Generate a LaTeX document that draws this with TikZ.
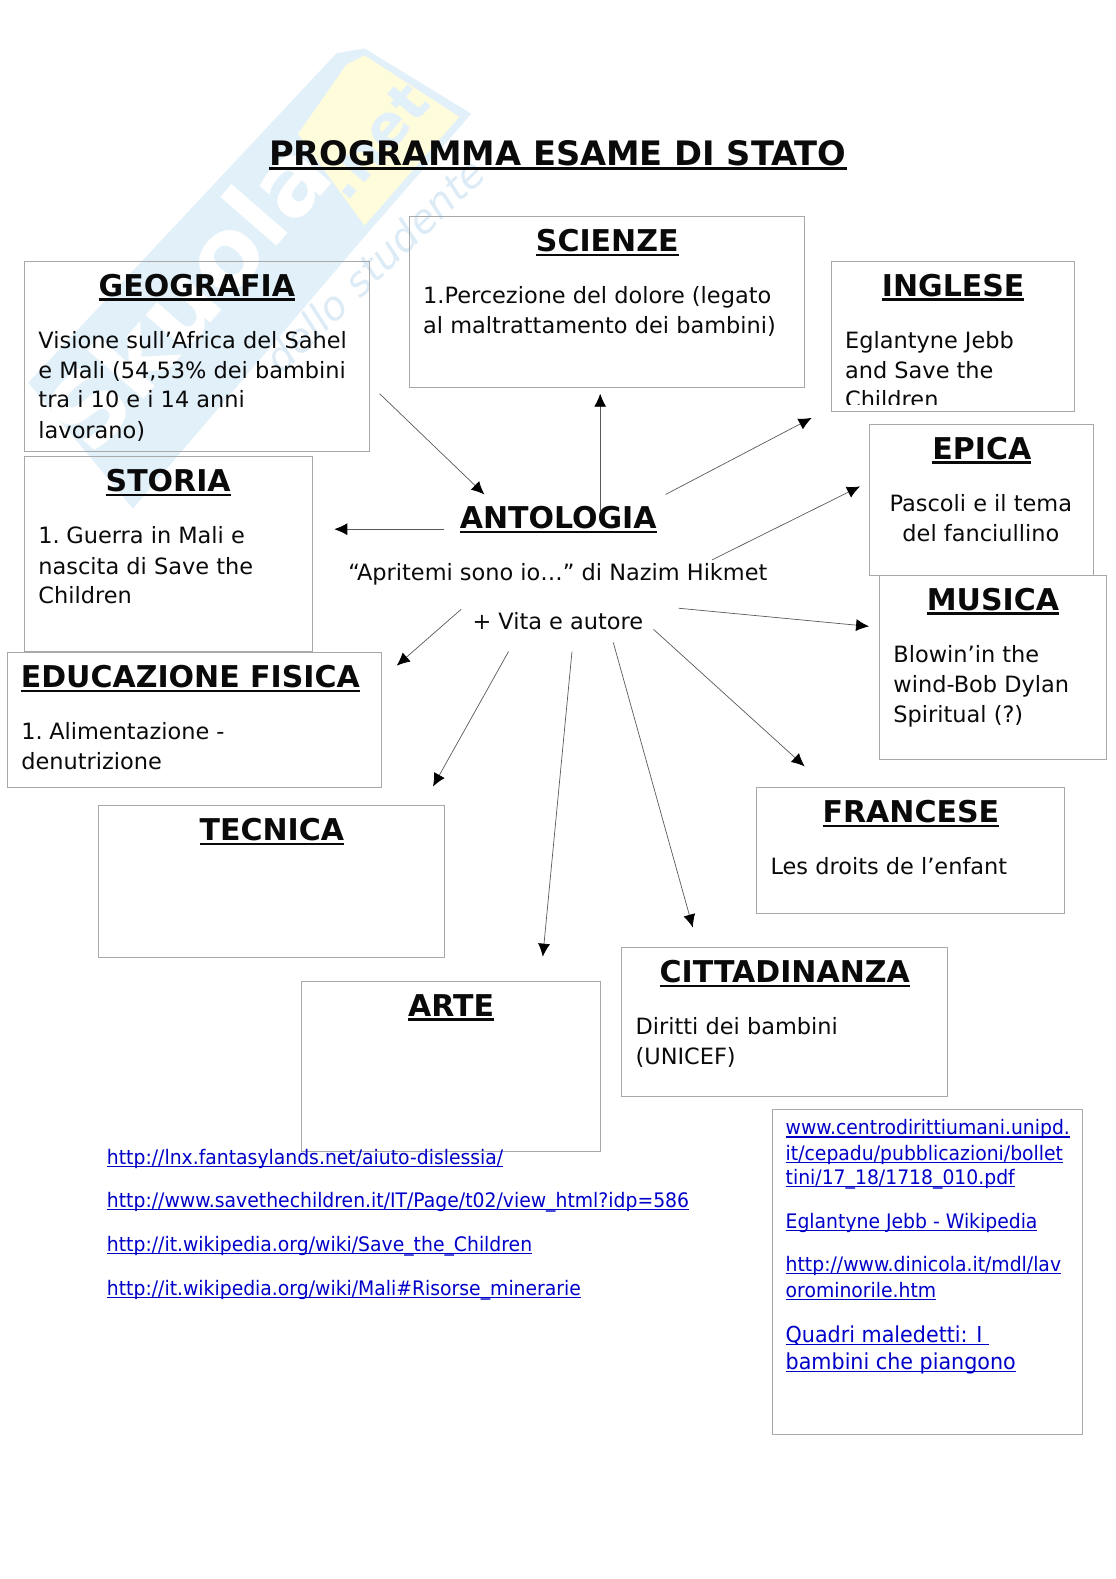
\documentclass[tikz,border=0pt]{standalone}
\usepackage{fontspec}
\usetikzlibrary{arrows.meta,fit}
\setmainfont{DejaVu Sans}
\newfontfamily\linkfont[FakeStretch=0.94]{DejaVu Sans}
\definecolor{wmblue}{HTML}{E2F0F9}
\definecolor{wmyellow}{HTML}{FFFCDC}
\definecolor{wmtext}{HTML}{DCEBF5}
\definecolor{linkblue}{HTML}{0000C8}
\definecolor{boxline}{HTML}{A8A8A8}
\definecolor{inkblack}{HTML}{0A0A0A}
\newcommand{\hul}[1]{\setbox0=\hbox{#1}\rlap{\copy0}\rlap{\rule[-4.5pt]{\wd0}{2.4pt}}\kern\wd0\relax}
\newcommand{\lnk}[1]{\setbox0=\hbox{#1}\rlap{\copy0}\rlap{\rule[-2.6pt]{\wd0}{1.1pt}}\kern\wd0\relax}
\tikzset{
  x=1.00722pt,y=-1.00722pt,
  panel/.style={draw=boxline,line width=0.8pt,inner sep=0pt,rectangle},
  head/.style={anchor=base,font=\fontsize{30}{36}\selectfont\bfseries,text=inkblack,inner sep=0pt},
  body/.style={anchor=base west,font=\fontsize{22.45}{30}\selectfont,text=inkblack,inner sep=0pt,align=left},
  bodyc/.style={anchor=base,font=\fontsize{22.45}{30}\selectfont,text=inkblack,inner sep=0pt,align=center},
  link/.style={anchor=base west,font=\linkfont\fontsize{20}{25}\selectfont,text=linkblue,inner sep=0pt},
  linkb/.style={anchor=base west,font=\linkfont\fontsize{22}{27}\selectfont,text=linkblue,inner sep=0pt},
  conn/.style={draw=black!65,line width=0.7pt,-{Latex[length=13pt,width=12pt,black]}},
}
\begin{document}
\begin{tikzpicture}
\useasboundingbox (0,0) rectangle (1108,1568);
% watermark
\fill[wmblue] (334,53) -- (362,48) -- (468,113) -- (362,235) -- (132,505) -- (28,380) -- cycle;
\fill[wmyellow] (362,55) -- (456,116) -- (362,224) -- (296,133) -- (344,64) -- cycle;
\node[rotate=49,font=\fontsize{98}{98}\selectfont\bfseries,text=white,inner sep=0pt,anchor=center] (wmname) at (186,292) {Skuola};
\node[rotate=49,font=\fontsize{58}{58}\selectfont\bfseries,text=wmblue,inner sep=0pt,anchor=center] (wmnet) at (372,140) {.net};
\node[rotate=44,font=\fontsize{40}{40}\selectfont\itshape,text=wmtext,inner sep=0pt,anchor=center] (wmtag) at (372,263) {dello studente};
% title
\node[anchor=base,font=\fontsize{33.7}{40}\selectfont\bfseries,text=inkblack,inner sep=0pt] (title) at (554,164) {\hul{PROGRAMMA ESAME DI STATO}};
% boxes
\node[panel,fit={(24,260) (367,448)}] (geobox) {};
\node[panel,fit={(406.5,215) (799,385)}] (scibox) {};
\node[panel,fit={(825.5,260) (1067,408.5)}] (ingbox) {};
\node[panel,fit={(863,421.5) (1086,571.5)}] (epibox) {};
\node[panel,fit={(873,571.5) (1099,754)}] (musbox) {};
\node[panel,fit={(24,453.5) (310,647)}] (stobox) {};
\node[panel,fit={(7.5,648) (379,782)}] (edubox) {};
\node[panel,fit={(98,800) (441,950.5)}] (tecbox) {};
\node[panel,fit={(299,975) (596,1143)}] (artbox) {};
\node[panel,fit={(617,941) (941,1088.5)}] (citbox) {};
\node[panel,fit={(751,782) (1057,907)}] (frabox) {};
\node[panel,fit={(767,1102) (1075,1424)}] (lnkbox) {};
% headings and bodies
\node[head] (geo) at (195.5,294) {\hul{GEOGRAFIA}};
\node[body] (geot1) at (38,346) {Visione sull’Africa del Sahel};
\node[body] (geot2) at (38,376) {e Mali (54,53\% dei bambini};
\node[body] (geot3) at (38,405) {tra i 10 e i 14 anni};
\node[body] (geot4) at (38,435) {lavorano)};
\node[head] (sci) at (603,249.7) {\hul{SCIENZE}};
\node[body] (scit1) at (420,301) {1.Percezione del dolore (legato};
\node[body] (scit2) at (420,331) {al maltrattamento dei bambini)};
\node[head] (ing) at (946.5,294) {\hul{INGLESE}};
\node[body] (ingt1) at (839,346) {Eglantyne Jebb};
\node[body] (ingt2) at (839,376) {and Save the};
\begin{scope}
\clip (826,380) rectangle (1066,402);
\node[body] (ingt3) at (839,405) {Children};
\end{scope}
\node[head] (epi) at (975,456) {\hul{EPICA}};
\node[bodyc] (epit1) at (974,508) {Pascoli e il tema};
\node[bodyc] (epit2) at (974,538) {del fanciullino};
\node[head] (mus) at (986,606) {\hul{MUSICA}};
\node[body] (must1) at (887,658) {Blowin’in the};
\node[body] (must2) at (887,688) {wind-Bob Dylan};
\node[body] (must3) at (887,717) {Spiritual (?)};
\node[head] (sto) at (167,488) {\hul{STORIA}};
\node[body] (stot1) at (38,540) {1.\kern-3pt{} Guerra in Mali e};
\node[body] (stot2) at (38,570) {nascita di Save the};
\node[body] (stot3) at (38,599) {Children};
\node[head] (edu) at (189,683) {\hul{EDUCAZIONE FISICA}};
\node[body] (edut1) at (21,734.5) {1.\kern-3pt{} Alimentazione -};
\node[body] (edut2) at (21,764) {denutrizione};
\node[head] (tec) at (270,834.7) {\hul{TECNICA}};
\node[head] (art) at (448,1009) {\hul{ARTE}};
\node[head] (cit) at (779.3,975.7) {\hul{CITTADINANZA}};
\node[body] (citt1) at (631,1027) {Diritti dei bambini};
\node[body] (citt2) at (631,1057) {(UNICEF)};
\node[head] (fra) at (904.5,816.7) {\hul{FRANCESE}};
\node[body] (frat1) at (765,868) {Les droits de l’enfant};
\node[head] (ant) at (554.3,525) {\hul{ANTOLOGIA}};
\node[bodyc] (antt1) at (554,576) {“Apritemi sono io…” di Nazim Hikmet};
\node[bodyc] (antt2) at (554,625) {+ Vita e autore};
% links
\node[link] (l1) at (106,1156) {\lnk{http://lnx.fantasylands.net/aiuto-dislessia/}};
\node[link] (l2) at (106,1199) {\lnk{http://www.savethechildren.it/IT/Page/t02/view\_html?idp=586}};
\node[link] (l3) at (106,1243) {\lnk{http://it.wikipedia.org/wiki/Save\_the\_Children}};
\node[link] (l4) at (106,1286) {\lnk{http://it.wikipedia.org/wiki/Mali\#Risorse\_minerarie}};
\node[link] (r1) at (780,1127) {\lnk{www.centrodirittiumani.unipd.}};
\node[link] (r2) at (780,1152) {\lnk{it/cepadu/pubblicazioni/bollet}};
\node[link] (r3) at (780,1176) {\lnk{tini/17\_18/1718\_010.pdf}};
\node[link] (r4) at (780,1220) {\lnk{Eglantyne Jebb - Wikipedia}};
\node[link] (r5) at (780,1263) {\lnk{http://www.dinicola.it/mdl/lav}};
\node[link] (r6) at (780,1288) {\lnk{orominorile.htm}};
\node[linkb] (r7) at (780,1333) {\lnk{Quadri maledetti: I\ }};
\node[linkb] (r8) at (780,1360) {\lnk{bambini che piangono}};
% connectors
\coordinate (a1) at (377,391); \coordinate (b1) at (481,491);
\coordinate (a2) at (596,507); \coordinate (b2) at (596,391);
\coordinate (a3) at (661,491); \coordinate (b3) at (806,415);
\coordinate (a4) at (707,556); \coordinate (b4) at (854,483);
\coordinate (a5) at (441,525.5); \coordinate (b5) at (332,525.5);
\coordinate (a6) at (458,605); \coordinate (b6) at (394,661);
\coordinate (a7) at (505,647); \coordinate (b7) at (430,781);
\coordinate (a8) at (568,647); \coordinate (b8) at (539,950);
\coordinate (a9) at (609,638); \coordinate (b9) at (688,921);
\coordinate (a10) at (649,625); \coordinate (b10) at (799,761);
\coordinate (a11) at (674,604); \coordinate (b11) at (863,622);
\foreach \i in {1,...,11} \draw[conn] (a\i) -- (b\i);
\end{tikzpicture}
\end{document}
